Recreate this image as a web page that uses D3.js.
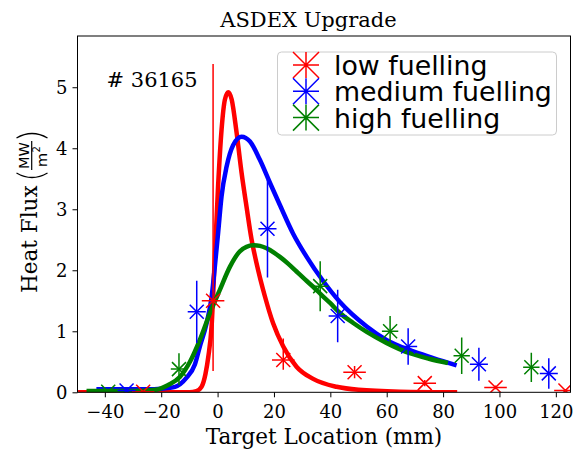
<!DOCTYPE html>
<html>
<head>
<meta charset="utf-8">
<script src="https://cdn.jsdelivr.net/npm/d3@7"></script>
<style>
  body { margin: 0; background: #fff; }
  svg { display: block; }
</style>
</head>
<body>
<div id="chart"></div>
<script>
// measured points (x in mm, heat flux in MW/m2)
var lowX = [-26.4, -1.6, 23.3, 48.6, 73.5, 98.6, 123.4];
var lowY = [0.01, 1.5, 0.53, 0.33, 0.15, 0.08, 0.03];
var lowErrDown = [0.01, 1.15, 0.16, 0.1, 0.05, 0.03, 0.02];
var lowErrUp = [0.01, 3.88, 0.35, 0.1, 0.05, 0.03, 0.02];
var lowXErr = [4, 4, 4, 4, 4, 4, 4];

var medX = [-32.3, -7.4, 17.7, 42.6, 67.6, 92.7, 117.5];
var medY = [0.03, 1.32, 2.68, 1.25, 0.75, 0.46, 0.31];
var medErr = [0.02, 0.51, 0.8, 0.43, 0.3, 0.27, 0.25];
var medXErr = [3.2, 3.2, 3.2, 3.2, 3.2, 3.2, 3.2];

var highX = [-38.8, -13.7, 36.4, 61.2, 86.6, 111.3];
var highY = [0.01, 0.38, 1.74, 1.0, 0.6, 0.41];
var highErr = [0.01, 0.26, 0.41, 0.25, 0.3, 0.24];
var highXErr = [2.9, 2.9, 2.9, 2.9, 2.9, 2.9];

// fitted profiles
var lowFitX = [-49.5, -20, -10, -7.5, -5.7, -4.3, -3.3, -2.1, -1.0, 0.2, 1.4, 2.6, 3.8, 5.0, 6.7, 8.5, 10.3, 12, 13.8, 16.8, 19.7, 23.3, 28, 33.9, 42.2, 50, 64.7, 85];
var lowFitY = [0, 0, 0, 0.02, 0.09, 0.3, 0.58, 1.1, 2.2, 3.4, 4.3, 4.8, 4.92, 4.8, 4.27, 3.6, 3.03, 2.52, 2.12, 1.57, 1.13, 0.75, 0.42, 0.22, 0.09, 0.04, 0.01, 0];

var medFitX = [-43, -25, -20, -15.1, -11, -8.1, -6.3, -3.9, -2.1, -1.0, 0.2, 1.4, 3.2, 5.5, 8.5, 11.5, 15, 18.6, 22.1, 26.8, 31.6, 37.5, 43.4, 52.9, 59.9, 68.2, 76.5, 84.8];
var medFitY = [0.05, 0.05, 0.06, 0.09, 0.24, 0.45, 0.75, 1.13, 1.57, 2.05, 2.62, 3.21, 3.7, 4.05, 4.19, 4.11, 3.81, 3.43, 3.07, 2.6, 2.22, 1.82, 1.48, 1.08, 0.86, 0.69, 0.56, 0.44];

var highFitX = [-46.5, -30, -22.2, -17.5, -13.4, -9.8, -6.3, -2.7, 0.8, 4.4, 7.9, 12.6, 15, 17.4, 20, 22.1, 25, 28, 31, 33.9, 37, 40, 43.4, 48, 52.9, 59.9, 68.2, 75, 81.7];
var highFitY = [0.02, 0.02, 0.04, 0.12, 0.25, 0.5, 0.86, 1.3, 1.68, 2.06, 2.31, 2.41, 2.4, 2.36, 2.29, 2.22, 2.11, 1.98, 1.85, 1.73, 1.59, 1.46, 1.3, 1.14, 0.99, 0.81, 0.64, 0.55, 0.48];

var xTicks = [-40, -20, 0, 20, 40, 60, 80, 100, 120];
var yTicks = [0, 1, 2, 3, 4, 5];
var names = ["low fuelling", "medium fuelling", "high fuelling"];
var colors = ["#ff0000", "#0000ff", "#008000"];

var W = 585, H = 449;
var pLeft = 77.5, pRight = 570.5, pTop = 36, pBottom = 392.3;

var svg = d3.select("#chart").append("svg")
  .attr("width", W)
  .attr("height", H);

svg.append("rect").attr("width", W).attr("height", H).attr("fill", "#fff");

var x = d3.scaleLinear().domain([-49.7, 125.2]).range([pLeft, pRight]);
var y = d3.scaleLinear().domain([0, 5.84]).range([pBottom, pTop]);

svg.append("defs").append("clipPath").attr("id", "plotclip")
  .append("rect")
  .attr("x", pLeft).attr("y", pTop)
  .attr("width", pRight - pLeft).attr("height", pBottom - pTop);

var plot = svg.append("g").attr("clip-path", "url(#plotclip)");

// fit curves
var line = d3.line()
  .x(function(d) { return x(d[0]); })
  .y(function(d) { return y(d[1]); })
  .curve(d3.curveMonotoneX);

var fits = [[lowFitX, lowFitY], [medFitX, medFitY], [highFitX, highFitY]];
fits.forEach(function(f, i) {
  plot.append("path")
    .datum(d3.zip(f[0], f[1]))
    .attr("d", line)
    .attr("fill", "none")
    .attr("stroke", colors[i])
    .attr("stroke-width", 4.5);
});

// error bars + x markers
var sets = [
  { xs: lowX, ys: lowY, dn: lowErrDown, up: lowErrUp, xe: lowXErr },
  { xs: medX, ys: medY, dn: medErr, up: medErr, xe: medXErr },
  { xs: highX, ys: highY, dn: highErr, up: highErr, xe: highXErr }
];

var m = 7;
sets.forEach(function(s, k) {
  var pts = s.xs.map(function(v, i) {
    return { x: v, y: s.ys[i], dn: s.dn[i], up: s.up[i], xe: s.xe[i] };
  });
  var g = plot.append("g")
    .attr("stroke", colors[k])
    .attr("stroke-width", 1.5)
    .attr("fill", "none");

  var mark = g.selectAll("g.pt")
    .data(pts)
    .enter().append("g")
    .attr("class", "pt");

  mark.append("line")
    .attr("x1", function(d) { return x(d.x); })
    .attr("x2", function(d) { return x(d.x); })
    .attr("y1", function(d) { return y(d.y - d.dn); })
    .attr("y2", function(d) { return y(d.y + d.up); });

  mark.append("line")
    .attr("x1", function(d) { return x(d.x - d.xe); })
    .attr("x2", function(d) { return x(d.x + d.xe); })
    .attr("y1", function(d) { return y(d.y); })
    .attr("y2", function(d) { return y(d.y); });

  mark.append("path")
    .attr("d", function(d) {
      var cx = x(d.x), cy = y(d.y);
      return "M" + (cx - m) + "," + (cy - m) + "L" + (cx + m) + "," + (cy + m) +
        "M" + (cx - m) + "," + (cy + m) + "L" + (cx + m) + "," + (cy - m);
    });
});

// axes
var xAxis = svg.append("g")
  .attr("transform", "translate(0," + pBottom + ")")
  .call(d3.axisBottom(x).tickValues(xTicks).tickSize(5).tickPadding(4));
var yAxis = svg.append("g")
  .attr("transform", "translate(" + pLeft + ",0)")
  .call(d3.axisLeft(y).tickValues(yTicks).tickSize(5).tickPadding(5).tickFormat(d3.format("d")));

[xAxis, yAxis].forEach(function(a) {
  a.select(".domain").remove();
  a.selectAll(".tick line").attr("stroke", "#000").attr("stroke-width", 1);
  a.selectAll(".tick text")
    .attr("fill", "#000")
    .style("font-family", "'DejaVu Serif', serif")
    .style("font-size", "18px");
});
xAxis.selectAll(".tick text").attr("dy", null).attr("y", 26);
yAxis.selectAll(".tick text").attr("dy", "0.36em");

svg.append("rect")
  .attr("x", pLeft).attr("y", pTop)
  .attr("width", pRight - pLeft).attr("height", pBottom - pTop)
  .attr("fill", "none")
  .attr("stroke", "#000")
  .attr("stroke-width", 1);

// title, labels
svg.append("text")
  .attr("x", 308.5).attr("y", 27)
  .attr("text-anchor", "middle")
  .style("font-family", "'DejaVu Serif', serif")
  .style("font-size", "21px")
  .text("ASDEX Upgrade");

svg.append("text")
  .attr("x", 324).attr("y", 444)
  .attr("text-anchor", "middle")
  .style("font-family", "'DejaVu Serif', serif")
  .style("font-size", "21.5px")
  .text("Target Location (mm)");

svg.append("text")
  .attr("x", 106.5).attr("y", 86.5)
  .style("font-family", "'DejaVu Serif', serif")
  .style("font-size", "21px")
  .text("# 36165");

var yl = svg.append("g").attr("transform", "translate(37,293) rotate(-90)");
yl.append("text")
  .attr("x", 0).attr("y", 0)
  .style("font-family", "'DejaVu Serif', serif")
  .style("font-size", "21.5px")
  .text("Heat Flux");
yl.append("path")
  .attr("d", "M120,-20.5Q111,-5,120,10.5")
  .attr("fill", "none").attr("stroke", "#000").attr("stroke-width", 1.3);
yl.append("path")
  .attr("d", "M155,-20.5Q164,-5,155,10.5")
  .attr("fill", "none").attr("stroke", "#000").attr("stroke-width", 1.3);
yl.append("line")
  .attr("x1", 123).attr("x2", 152)
  .attr("y1", -5.3).attr("y2", -5.3)
  .attr("stroke", "#000").attr("stroke-width", 1.2);
yl.append("text")
  .attr("x", 137.5).attr("y", -8)
  .attr("text-anchor", "middle")
  .style("font-family", "'DejaVu Sans', sans-serif")
  .style("font-size", "14.5px")
  .text("MW");
yl.append("text")
  .attr("x", 133).attr("y", 9.5)
  .attr("text-anchor", "middle")
  .style("font-family", "'DejaVu Sans', sans-serif")
  .style("font-size", "14.5px")
  .text("m");
yl.append("text")
  .attr("x", 140.5).attr("y", 3)
  .style("font-family", "'DejaVu Sans', sans-serif")
  .style("font-size", "10px")
  .text("2");

// legend
var lg = svg.append("g");
lg.append("rect")
  .attr("x", 277.5).attr("y", 52)
  .attr("width", 279).attr("height", 83)
  .attr("rx", 4)
  .attr("fill", "#fff").attr("fill-opacity", 0.8)
  .attr("stroke", "#cccccc").attr("stroke-width", 1);

var rowY = [65, 91.3, 117.6];
var lm = 13;
var item = lg.selectAll("g.item")
  .data(names)
  .enter().append("g")
  .attr("class", "item")
  .attr("transform", function(d, i) { return "translate(306," + rowY[i] + ")"; });

item.append("path")
  .attr("d", "M0," + (-lm) + "V" + lm + "M" + (-lm) + ",0H" + lm +
    "M" + (-lm) + "," + (-lm) + "L" + lm + "," + lm +
    "M" + (-lm) + "," + lm + "L" + lm + "," + (-lm))
  .attr("fill", "none")
  .attr("stroke", function(d, i) { return colors[i]; })
  .attr("stroke-width", 1.5);

item.append("text")
  .attr("x", 28).attr("y", 10)
  .style("font-family", "'DejaVu Sans', sans-serif")
  .style("font-size", "26.8px")
  .attr("fill", "#000")
  .text(function(d) { return d; });
</script>
</body>
</html>
